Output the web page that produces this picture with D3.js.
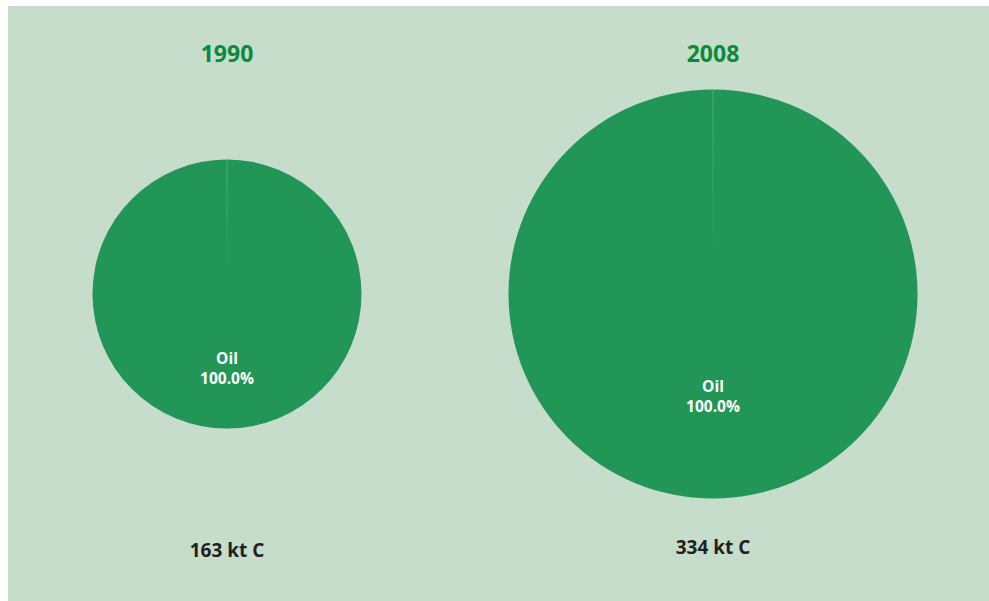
<!DOCTYPE html>
<html><head><meta charset="utf-8">
<script src="https://cdn.jsdelivr.net/npm/d3@7"></script>
<style>html,body{margin:0;padding:0;background:#fff;}svg{display:block;}</style>
</head><body>
<svg id="c" width="989" height="601"></svg>
<script>
const years = ["1990", "2008"];
const totals = [163, 334];
const totalLabels = ["163 kt C", "334 kt C"];
const fuels = ["Oil"];
const shares = [[100.0], [100.0]];

const svg = d3.select("#c");
const W = 989, H = 601;
svg.append("rect").attr("x", 8).attr("y", 6).attr("width", W - 8).attr("height", H - 6).attr("fill", "#c5ddca");

const font = "'Open Sans', 'Liberation Sans', sans-serif";
const xPos = d3.scalePoint().domain(years).range([227, 713]);
const rScale = d3.scaleLinear().domain([163, 334]).range([134.5, 204.5]);
const color = d3.scaleOrdinal().domain(fuels).range(["#219657"]);
const pie = d3.pie().sort(null);
const cy = 294;

years.forEach((yr, i) => {
  const cx = xPos(yr);
  const r = rScale(totals[i]);
  const g = svg.append("g").attr("transform", `translate(${cx},${cy})`);
  const arcs = pie(shares[i]);
  const arc = d3.arc().innerRadius(0).outerRadius(r);
  g.selectAll("path").data(arcs).enter().append("path")
    .attr("d", arc).attr("fill", (d, j) => color(fuels[j]));
  // slice seam
  const gid = "seam" + i;
  const grad = svg.append("defs").append("linearGradient").attr("id", gid)
    .attr("gradientUnits", "userSpaceOnUse").attr("x1", 0).attr("y1", -r).attr("x2", 0).attr("y2", 0);
  grad.append("stop").attr("offset", 0).attr("stop-color", "#4fae7a").attr("stop-opacity", 1);
  grad.append("stop").attr("offset", 0.85).attr("stop-color", "#4fae7a").attr("stop-opacity", 0);
  g.append("line").attr("x1", 0).attr("y1", -r).attr("x2", 0).attr("y2", 0)
    .attr("stroke", `url(#${gid})`).attr("stroke-width", 1);
  // labels
  arcs.forEach((d, j) => {
    const c = d3.arc().innerRadius(0).outerRadius(r * (i === 0 ? 1.1 : 1)).centroid(d);
    const lab = g.append("g").attr("font-family", font).attr("font-weight", 700)
      .attr("font-size", 15.5).attr("fill", "#ffffff").attr("text-anchor", "middle");
    lab.append("text").attr("x", c[0]).attr("y", c[1] - 4).text(fuels[j]);
    lab.append("text").attr("x", c[0]).attr("y", c[1] + 16).text(d.data.toFixed(1) + "%");
  });
  svg.append("text").attr("x", cx).attr("y", 62).attr("text-anchor", "middle")
    .attr("font-family", font).attr("font-weight", 700).attr("font-size", 23)
    .attr("fill", "#0a8a3c").text(yr);
  svg.append("text").attr("x", cx).attr("y", i === 0 ? 557 : 554).attr("text-anchor", "middle")
    .attr("font-family", font).attr("font-weight", 700).attr("font-size", 19)
    .attr("fill", "#231f20").text(totalLabels[i]);
});
</script>
</body></html>
